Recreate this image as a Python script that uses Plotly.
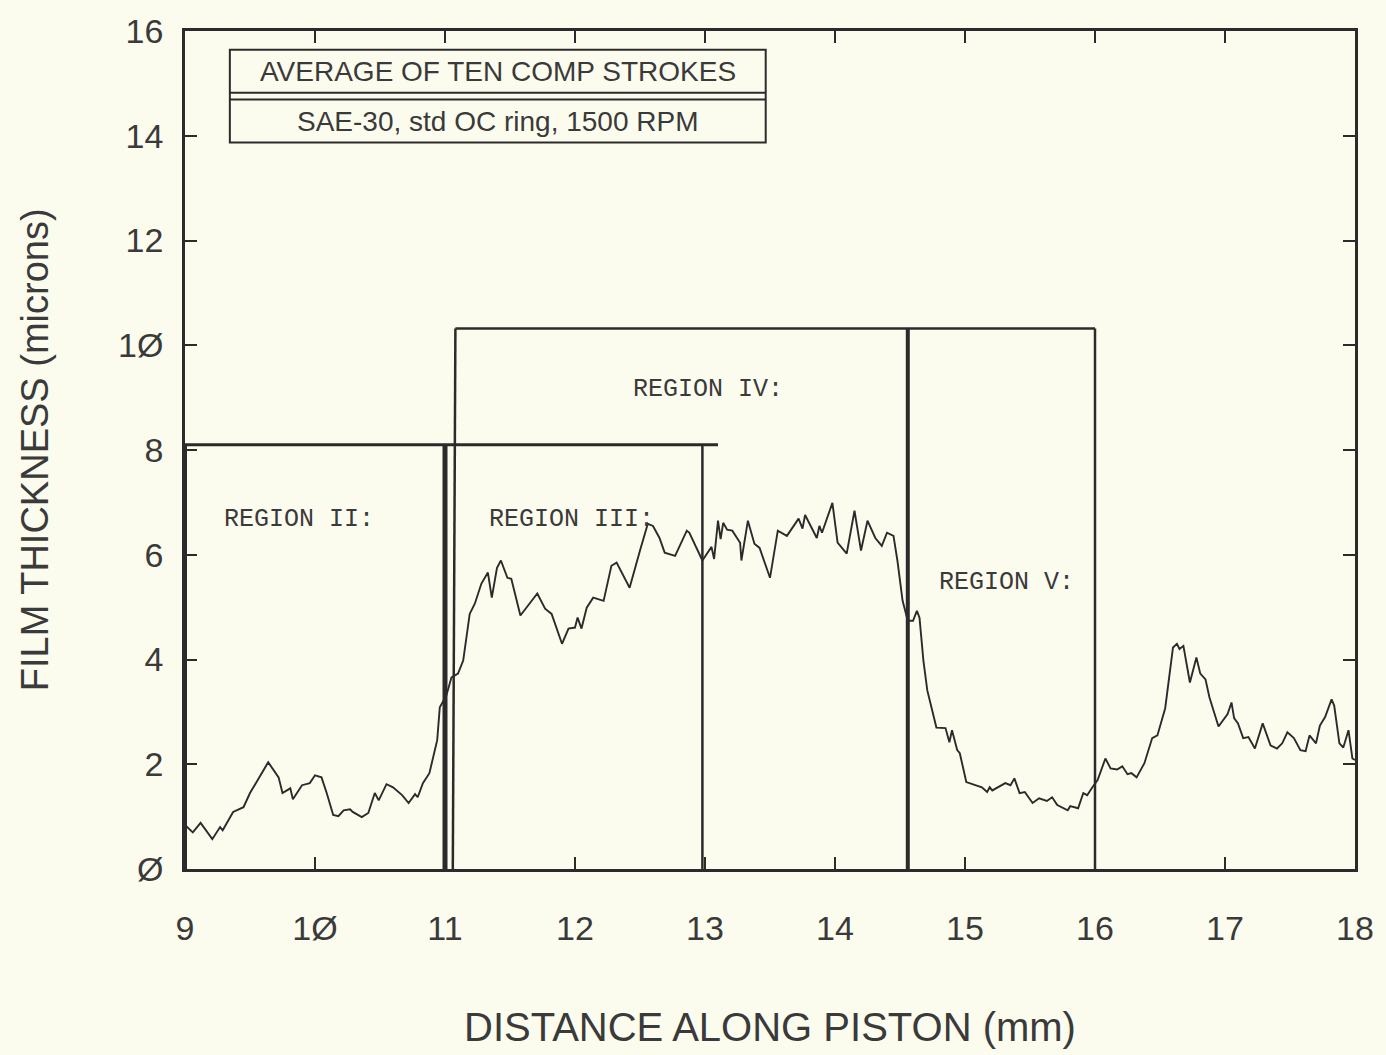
import plotly.graph_objects as go

# ---- data: film thickness trace (mm, microns) ----
distance_mm = [9.00, 9.06, 9.12, 9.21, 9.27, 9.29, 9.37, 9.45, 9.50, 9.64, 9.72, 9.75, 9.81, 9.83, 9.90, 9.96,
               10.00, 10.05, 10.09, 10.14, 10.18, 10.22, 10.27, 10.29, 10.36, 10.41, 10.46, 10.49, 10.55, 10.60,
               10.67, 10.72, 10.77, 10.79, 10.83, 10.88, 10.94, 10.96, 11.01, 11.05, 11.10, 11.14, 11.19, 11.23,
               11.28, 11.33, 11.36, 11.40, 11.43, 11.48, 11.51, 11.58, 11.71, 11.77, 11.82, 11.90, 11.95, 12.00,
               12.02, 12.05, 12.09, 12.14, 12.22, 12.28, 12.32, 12.42, 12.50, 12.56, 12.60, 12.65, 12.69, 12.77,
               12.86, 12.88, 12.98, 13.05, 13.07, 13.10, 13.12, 13.14, 13.17, 13.21, 13.27, 13.28, 13.33, 13.38,
               13.42, 13.50, 13.56, 13.63, 13.72, 13.75, 13.77, 13.86, 13.88, 13.90, 13.98, 14.02, 14.09, 14.15,
               14.20, 14.25, 14.31, 14.36, 14.40, 14.45, 14.48, 14.52, 14.56, 14.60, 14.63, 14.65, 14.68, 14.71,
               14.78, 14.85, 14.88, 14.90, 14.94, 14.96, 15.01, 15.13, 15.17, 15.19, 15.21, 15.31, 15.35, 15.38,
               15.42, 15.46, 15.52, 15.57, 15.63, 15.67, 15.71, 15.79, 15.81, 15.87, 15.91, 15.94, 15.98, 16.02,
               16.08, 16.12, 16.17, 16.21, 16.25, 16.28, 16.32, 16.38, 16.44, 16.48, 16.54, 16.60, 16.63, 16.65,
               16.68, 16.73, 16.78, 16.81, 16.85, 16.88, 16.95, 17.00, 17.02, 17.05, 17.07, 17.10, 17.14, 17.18,
               17.23, 17.29, 17.35, 17.40, 17.44, 17.48, 17.53, 17.58, 17.62, 17.65, 17.70, 17.73, 17.77, 17.82,
               17.84, 17.88, 17.91, 17.95, 17.97, 17.98, 18.00]
thickness_um = [0.84, 0.70, 0.88, 0.57, 0.80, 0.74, 1.09, 1.18, 1.45, 2.04, 1.75, 1.45, 1.54, 1.33, 1.60, 1.64,
                1.79, 1.75, 1.45, 1.03, 1.01, 1.12, 1.14, 1.09, 0.99, 1.07, 1.45, 1.31, 1.62, 1.56,
                1.41, 1.26, 1.43, 1.37, 1.64, 1.83, 2.46, 3.09, 3.31, 3.66, 3.73, 3.98, 4.87, 5.07,
                5.45, 5.66, 5.18, 5.75, 5.89, 5.56, 5.54, 4.84, 5.26, 4.97, 4.87, 4.30, 4.59, 4.61,
                4.80, 4.59, 4.99, 5.18, 5.12, 5.79, 5.85, 5.37, 6.08, 6.59, 6.55, 6.32, 6.04, 5.98,
                6.46, 6.42, 5.89, 6.15, 5.92, 6.65, 6.30, 6.61, 6.48, 6.46, 6.23, 5.89, 6.65, 6.21,
                6.13, 5.56, 6.46, 6.36, 6.69, 6.50, 6.76, 6.32, 6.55, 6.42, 6.99, 6.23, 6.02, 6.84,
                6.08, 6.65, 6.32, 6.17, 6.42, 6.36, 5.89, 5.12, 4.74, 4.74, 4.93, 4.80, 3.98, 3.41,
                2.70, 2.69, 2.42, 2.65, 2.27, 2.21, 1.66, 1.56, 1.47, 1.56, 1.50, 1.64, 1.60, 1.73,
                1.45, 1.47, 1.26, 1.35, 1.30, 1.37, 1.22, 1.12, 1.20, 1.16, 1.45, 1.41, 1.56, 1.70,
                2.11, 1.92, 1.90, 1.96, 1.81, 1.83, 1.75, 2.02, 2.50, 2.55, 3.07, 4.23, 4.30, 4.20,
                4.26, 3.56, 4.04, 3.73, 3.62, 3.28, 2.72, 2.90, 2.96, 3.18, 2.88, 2.78, 2.50, 2.52,
                2.30, 2.78, 2.36, 2.30, 2.40, 2.61, 2.50, 2.27, 2.25, 2.55, 2.40, 2.74, 2.90, 3.24,
                3.12, 2.40, 2.32, 2.65, 2.27, 2.11, 2.08]

# ---- region box segments (data units) ----
seg_x0 = [9.00, 9.00, 11.00, 11.06, 11.08, 12.98, 14.56, 16.00]
seg_y0 = [0.00, 8.10, 0.00, 0.00, 10.32, 0.00, 0.00, 0.00]
seg_x1 = [9.00, 13.10, 11.00, 11.08, 16.00, 12.98, 14.56, 16.00]
seg_y1 = [8.10, 8.10, 8.10, 10.32, 10.32, 8.10, 10.32, 10.32]
seg_w = [4, 3, 5, 2.5, 2.5, 2.5, 4, 2.5]

region_labels = ["REGION II:", "REGION III:", "REGION IV:", "REGION V:"]
region_label_x = [9.88, 11.97, 13.02, 15.32]
region_label_y = [6.68, 6.68, 9.16, 5.47]

# legend/title box
box_x = [9.345, 13.467]
box_y = [13.87, 14.69, 14.82, 15.64]
box_lines = ["AVERAGE OF TEN COMP STROKES", "SAE-30, std OC ring, 1500 RPM"]
box_text_y = [15.23, 14.28]

x_ticks = [9, 10, 11, 12, 13, 14, 15, 16, 17, 18]
x_ticktext = ["9", "1Ø", "11", "12", "13", "14", "15", "16", "17", "18"]
y_ticks = [0, 2, 4, 6, 8, 10, 12, 14, 16]
y_ticktext = ["Ø", "2", "4", "6", "8", "1Ø", "12", "14", "16"]

BG = "#fcfcee"
INK = "#2b2b2b"
TXT = "#3a3a3a"
SANS = "Liberation Sans, Arial, sans-serif"

fig = go.Figure()
fig.add_trace(go.Scatter(x=distance_mm, y=thickness_um, mode="lines",
                         line=dict(color=INK, width=1.9), showlegend=False, hoverinfo="skip"))

for x0, y0, x1, y1, w in zip(seg_x0, seg_y0, seg_x1, seg_y1, seg_w):
    fig.add_shape(type="line", x0=x0, y0=y0, x1=x1, y1=y1, xref="x", yref="y",
                  line=dict(color=INK, width=w))

# title box
fig.add_shape(type="rect", x0=box_x[0], x1=box_x[1], y0=box_y[0], y1=box_y[3],
              xref="x", yref="y", line=dict(color=INK, width=2), fillcolor=BG)
for yy in box_y[1:3]:
    fig.add_shape(type="line", x0=box_x[0], x1=box_x[1], y0=yy, y1=yy,
                  xref="x", yref="y", line=dict(color=INK, width=2))
for txt, yy in zip(box_lines, box_text_y):
    fig.add_annotation(x=(box_x[0] + box_x[1]) / 2, y=yy, xref="x", yref="y", text=txt,
                       showarrow=False, font=dict(family=SANS, size=28, color=TXT))

for txt, xx, yy in zip(region_labels, region_label_x, region_label_y):
    fig.add_annotation(x=xx, y=yy, xref="x", yref="y", text=txt, showarrow=False,
                       font=dict(family="Liberation Mono, Courier New, monospace", size=25, color=TXT))

# axis titles
fig.add_annotation(x=0.5, y=-0.189, xref="paper", yref="paper", text="DISTANCE ALONG PISTON (mm)",
                   xanchor="center", yanchor="middle",
                   showarrow=False, font=dict(family=SANS, size=40, color=TXT))
fig.add_annotation(x=-0.128, y=0.5, xref="paper", yref="paper", text="FILM THICKNESS (microns)",
                   xanchor="center", yanchor="middle",
                   textangle=-90, showarrow=False, font=dict(family=SANS, size=38, color=TXT))

axis_common = dict(showline=True, mirror="ticks", linecolor=INK, linewidth=2.5,
                   ticks="inside", ticklen=12, tickwidth=2, tickcolor=INK,
                   showgrid=False, zeroline=False,
                   tickfont=dict(family=SANS, size=34, color=TXT))

fig.update_xaxes(range=[9, 18], tickmode="array", tickvals=x_ticks, ticktext=x_ticktext,
                 ticklabelstandoff=27, **axis_common)
fig.update_yaxes(range=[0, 16], tickmode="array", tickvals=y_ticks, ticktext=y_ticktext,
                 ticklabelstandoff=12, **axis_common)

fig.update_layout(width=1386, height=1055, margin=dict(l=185, r=28, t=29, b=186),
                  paper_bgcolor=BG, plot_bgcolor=BG, showlegend=False)

fig.write_html("out.html", config={"displayModeBar": False},
               post_script=["document.body.style.margin='0';document.body.style.background='" + BG + "';"])
